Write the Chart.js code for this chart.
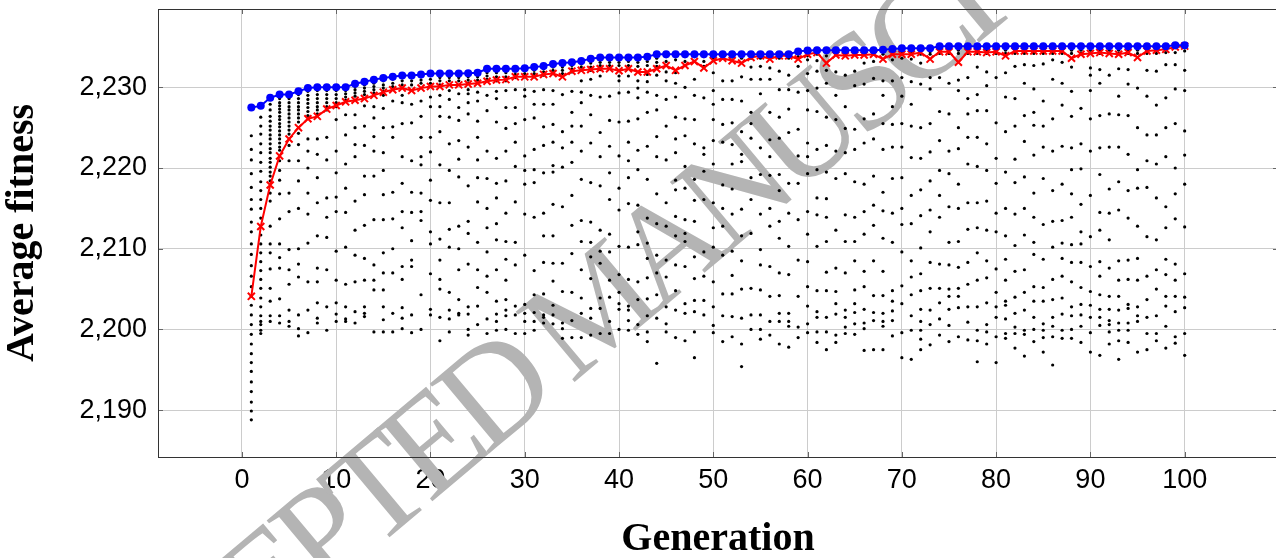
<!DOCTYPE html>
<html>
<head>
<meta charset="utf-8">
<title>Average fitness per generation</title>
<script src="https://cdn.jsdelivr.net/npm/chart.js@4.4.1/dist/chart.umd.min.js"></script>
<style>
  html, body { margin: 0; padding: 0; background: #fff; overflow: hidden; }
  #wrap { position: relative; width: 1290px; height: 558px; }
</style>
</head>
<body>
<div id="wrap"><canvas id="fitnessChart" width="1290" height="558"></canvas></div>
<script>
// Generations on the x axis
const generations = [
  1, 2, 3, 4, 5, 6, 7, 8, 9, 10, 11, 12, 13, 14, 15, 16, 17, 18, 19, 20,
  21, 22, 23, 24, 25, 26, 27, 28, 29, 30, 31, 32, 33, 34, 35, 36, 37, 38, 39, 40,
  41, 42, 43, 44, 45, 46, 47, 48, 49, 50, 51, 52, 53, 54, 55, 56, 57, 58, 59, 60,
  61, 62, 63, 64, 65, 66, 67, 68, 69, 70, 71, 72, 73, 74, 75, 76, 77, 78, 79, 80,
  81, 82, 83, 84, 85, 86, 87, 88, 89, 90, 91, 92, 93, 94, 95, 96, 97, 98, 99, 100
];

// Best individual of each generation (blue)
const bestFitness = [
  2227.5, 2227.7, 2228.7, 2229.1, 2229.1, 2229.5, 2229.9, 2230.0, 2230.0, 2230.0,
  2230.0, 2230.45, 2230.7, 2230.95, 2231.15, 2231.3, 2231.45, 2231.45, 2231.6, 2231.7,
  2231.7, 2231.7, 2231.7, 2231.75, 2231.8, 2232.3, 2232.3, 2232.3, 2232.3, 2232.35,
  2232.5, 2232.65, 2232.9, 2233.0, 2233.1, 2233.25, 2233.55, 2233.7, 2233.7, 2233.7,
  2233.7, 2233.7, 2233.8, 2234.1, 2234.1, 2234.1, 2234.1, 2234.1, 2234.1, 2234.1,
  2234.1, 2234.1, 2234.1, 2234.1, 2234.1, 2234.1, 2234.1, 2234.1, 2234.45, 2234.55,
  2234.6, 2234.6, 2234.6, 2234.6, 2234.6, 2234.6, 2234.6, 2234.65, 2234.75, 2234.85,
  2234.85, 2234.85, 2234.85, 2235.1, 2235.1, 2235.1, 2235.1, 2235.1, 2235.1, 2235.1,
  2235.1, 2235.1, 2235.1, 2235.1, 2235.1, 2235.1, 2235.1, 2235.1, 2235.1, 2235.1,
  2235.1, 2235.1, 2235.1, 2235.1, 2235.1, 2235.1, 2235.1, 2235.1, 2235.2, 2235.2
];

// Average fitness of each generation (red)
const avgFitness = [
  2204.1, 2212.75, 2217.9, 2221.5, 2223.6, 2225.0, 2226.1, 2226.4, 2227.3, 2227.75,
  2228.2, 2228.4, 2228.6, 2229.0, 2229.4, 2229.7, 2229.9, 2229.6, 2229.9, 2230.1,
  2230.1, 2230.3, 2230.3, 2230.4, 2230.5, 2230.75, 2230.9, 2230.95, 2231.3, 2231.3,
  2231.3, 2231.6, 2231.7, 2231.3, 2232.0, 2232.1, 2232.2, 2232.3, 2232.3, 2232.05,
  2232.3, 2231.9, 2231.9, 2232.3, 2232.7, 2232.1, 2232.7, 2233.2, 2232.4, 2233.3,
  2233.6, 2233.3, 2233.0, 2233.7, 2233.9, 2233.5, 2233.9, 2233.9, 2233.5, 2234.1,
  2234.3, 2233.0, 2234.0, 2233.9, 2234.0, 2234.0, 2234.1, 2233.5, 2234.1, 2234.1,
  2234.1, 2234.3, 2233.5, 2234.4, 2234.4, 2233.1, 2234.4, 2234.4, 2234.3, 2234.4,
  2233.9, 2234.5, 2234.5, 2234.5, 2234.5, 2234.5, 2234.5, 2233.6, 2234.1, 2234.2,
  2234.3, 2234.2, 2234.1, 2234.3, 2233.7, 2234.5, 2234.6, 2234.7, 2235.0, 2235.1
];

// Fitness of the individuals in each generation (black dots), one row per generation
const population = [
  [2224.0, 2222.3, 2221.0, 2219.3, 2217.6, 2216.1, 2214.9, 2213.3, 2212.1, 2210.6, 2209.3, 2207.9, 2206.6, 2205.3, 2204.1, 2203.0, 2201.8, 2200.6, 2199.4, 2198.2, 2197.0, 2195.9, 2194.8, 2193.5, 2192.3, 2191.0, 2189.9, 2188.8],
  [2226.3, 2225.2, 2224.2, 2223.0, 2221.9, 2220.7, 2219.6, 2218.3, 2217.2, 2216.1, 2215.0, 2213.8, 2211.7, 2210.6, 2209.5, 2208.4, 2207.3, 2206.2, 2205.1, 2203.9, 2202.8, 2201.7, 2201.0, 2200.6, 2199.9, 2199.5],
  [2227.9, 2227.2, 2226.4, 2225.8, 2225.2, 2224.7, 2224.1, 2223.6, 2223.0, 2222.4, 2221.9, 2221.2, 2220.7, 2220.1, 2219.5, 2219.0, 2218.4, 2216.9, 2215.9, 2212.8, 2210.6, 2209.5, 2207.5, 2205.1, 2203.5, 2201.7, 2201.0],
  [2228.6, 2228.1, 2227.7, 2227.3, 2226.9, 2226.4, 2226.0, 2225.5, 2225.1, 2224.6, 2224.1, 2223.6, 2223.1, 2222.6, 2222.2, 2220.9, 2219.7, 2218.5, 2216.8, 2213.7, 2210.6, 2208.9, 2207.6, 2203.8, 2201.7, 2200.8],
  [2228.6, 2228.1, 2227.6, 2227.2, 2226.7, 2226.2, 2225.7, 2225.2, 2224.7, 2224.2, 2222.8, 2220.9, 2216.9, 2214.6, 2209.9, 2207.4, 2205.6, 2202.4, 2201.0, 2200.4],
  [2229.1, 2228.6, 2228.1, 2227.6, 2227.2, 2226.7, 2226.2, 2225.7, 2224.3, 2222.9, 2220.9, 2218.4, 2215.0, 2210.0, 2208.1, 2206.5, 2201.8, 2200.1, 2199.2],
  [2229.5, 2229.0, 2228.5, 2228.0, 2227.5, 2227.0, 2226.5, 2223.6, 2222.1, 2220.0, 2216.9, 2214.3, 2210.7, 2205.9, 2202.4, 2199.6],
  [2229.6, 2229.1, 2228.6, 2228.1, 2227.6, 2227.2, 2226.7, 2223.6, 2221.7, 2218.8, 2215.7, 2211.6, 2207.6, 2205.9, 2203.3, 2201.4, 2200.8],
  [2229.6, 2229.1, 2228.6, 2228.1, 2227.6, 2227.2, 2223.8, 2221.0, 2216.3, 2213.9, 2211.4, 2207.4, 2202.8, 2199.9],
  [2229.6, 2229.1, 2228.6, 2228.1, 2227.6, 2226.0, 2222.1, 2219.4, 2216.4, 2214.6, 2209.7, 2206.1, 2203.3, 2201.9, 2201.0],
  [2229.6, 2229.2, 2228.8, 2228.4, 2226.6, 2224.1, 2220.5, 2217.5, 2214.5, 2210.2, 2205.6, 2202.8, 2201.3, 2201.0],
  [2230.1, 2229.7, 2229.3, 2228.9, 2226.6, 2225.0, 2222.9, 2221.4, 2215.9, 2212.3, 2209.2, 2205.9, 2202.2, 2200.8],
  [2230.3, 2229.9, 2229.5, 2229.1, 2227.7, 2225.2, 2222.8, 2219.0, 2216.7, 2212.9, 2208.8, 2206.1, 2202.8, 2202.0, 2201.6],
  [2230.5, 2230.1, 2229.7, 2229.3, 2227.6, 2226.2, 2223.9, 2222.1, 2219.0, 2213.6, 2208.0, 2206.1, 2204.9, 2199.7],
  [2230.8, 2230.3, 2229.9, 2229.5, 2229.0, 2227.4, 2225.0, 2221.9, 2219.7, 2216.7, 2213.6, 2209.5, 2207.0, 2204.9, 2202.8, 2201.2, 2199.7],
  [2231.0, 2230.5, 2230.1, 2228.3, 2225.1, 2223.8, 2217.0, 2213.7, 2210.0, 2207.0, 2202.0, 2199.7],
  [2231.2, 2230.8, 2230.3, 2229.0, 2228.1, 2225.5, 2221.4, 2218.1, 2214.6, 2212.6, 2207.8, 2206.2, 2202.7, 2201.4, 2200.1],
  [2231.2, 2230.8, 2230.3, 2227.9, 2225.6, 2220.9, 2217.0, 2214.5, 2211.0, 2208.6, 2207.8, 2201.8, 2199.6],
  [2231.3, 2230.9, 2230.5, 2228.3, 2226.4, 2223.8, 2221.4, 2220.4, 2216.9, 2214.6, 2213.5, 2204.3, 2200.0],
  [2231.5, 2231.0, 2230.5, 2228.8, 2227.6, 2223.8, 2222.0, 2218.5, 2216.0, 2212.1, 2210.6, 2206.9, 2202.5, 2201.8],
  [2231.2, 2230.8, 2230.3, 2229.0, 2227.6, 2226.4, 2224.5, 2220.4, 2215.7, 2211.2, 2208.6, 2206.2, 2205.0, 2201.5, 2198.6],
  [2231.2, 2230.8, 2229.6, 2228.5, 2226.3, 2223.0, 2219.7, 2215.7, 2212.4, 2210.2, 2204.6, 2202.4, 2201.3, 2199.7],
  [2231.2, 2230.8, 2229.2, 2227.5, 2225.9, 2223.4, 2221.1, 2218.9, 2212.8, 2210.0, 2207.4, 2203.7, 2202.0, 2201.8],
  [2231.3, 2230.9, 2230.5, 2229.7, 2229.2, 2228.1, 2226.7, 2222.6, 2217.8, 2213.4, 2211.9, 2208.1, 2202.8, 2201.9, 2200.0, 2199.3],
  [2231.3, 2230.9, 2229.4, 2228.3, 2225.8, 2223.8, 2221.0, 2218.8, 2215.8, 2210.8, 2207.4, 2205.2, 2202.9, 2200.6],
  [2231.8, 2231.4, 2231.0, 2229.0, 2227.1, 2222.1, 2218.7, 2215.0, 2212.6, 2209.6, 2206.6, 2204.6, 2201.3, 2199.5],
  [2231.8, 2231.3, 2230.8, 2229.5, 2228.6, 2225.7, 2221.2, 2218.1, 2216.3, 2213.1, 2211.1, 2207.4, 2203.5, 2201.9, 2201.0, 2199.9],
  [2231.8, 2231.3, 2230.8, 2229.6, 2227.5, 2224.9, 2222.1, 2218.4, 2214.4, 2210.9, 2208.7, 2206.1, 2203.7, 2202.4, 2201.7, 2200.0],
  [2232.0, 2231.6, 2231.2, 2229.7, 2227.5, 2225.5, 2223.2, 2220.2, 2215.8, 2210.8, 2208.0, 2202.9, 2201.8, 2199.5],
  [2232.1, 2231.7, 2231.3, 2229.7, 2228.9, 2226.0, 2221.5, 2219.7, 2218.0, 2214.3, 2209.2, 2203.1, 2202.0, 2201.0, 2199.5],
  [2232.1, 2231.7, 2231.3, 2229.5, 2227.9, 2226.2, 2222.3, 2219.8, 2218.2, 2213.9, 2207.3, 2204.3, 2202.1, 2201.0, 2199.9],
  [2232.3, 2231.9, 2231.5, 2229.7, 2227.9, 2225.1, 2222.8, 2219.4, 2214.4, 2211.6, 2208.3, 2204.4, 2201.8, 2201.5, 2200.8],
  [2232.5, 2232.1, 2231.7, 2229.6, 2227.9, 2225.4, 2223.2, 2220.3, 2219.5, 2215.5, 2211.6, 2208.2, 2206.0, 2203.0, 2201.8, 2200.7],
  [2232.5, 2232.1, 2231.7, 2229.1, 2224.5, 2222.5, 2220.1, 2215.2, 2208.2, 2204.7, 2200.8, 2200.1, 2198.9],
  [2232.7, 2232.3, 2231.9, 2229.5, 2226.9, 2225.2, 2223.2, 2220.7, 2216.6, 2212.9, 2209.4, 2204.6, 2201.1, 2199.0],
  [2232.9, 2232.5, 2232.1, 2230.8, 2229.4, 2228.1, 2225.2, 2222.1, 2218.6, 2213.5, 2210.9, 2207.4, 2203.9, 2202.0, 2199.0],
  [2233.0, 2232.5, 2232.1, 2231.0, 2229.0, 2226.6, 2223.1, 2218.2, 2213.3, 2210.8, 2209.0, 2206.3, 2202.6, 2201.4, 2199.3],
  [2233.1, 2232.7, 2232.2, 2231.4, 2228.8, 2224.4, 2221.4, 2217.8, 2212.3, 2209.7, 2208.2, 2203.9, 2202.6, 2199.5],
  [2233.1, 2232.7, 2228.9, 2225.9, 2222.7, 2219.4, 2216.1, 2211.8, 2209.6, 2206.1, 2204.0, 2201.0, 2199.5],
  [2233.1, 2232.7, 2231.4, 2230.8, 2229.3, 2225.7, 2221.5, 2217.5, 2214.8, 2210.3, 2206.8, 2204.6, 2203.2, 2202.5, 2200.0],
  [2233.2, 2232.7, 2231.4, 2229.4, 2225.8, 2223.2, 2220.9, 2218.8, 2215.6, 2210.2, 2206.2, 2202.9, 2202.4, 2201.1, 2199.9],
  [2233.1, 2232.6, 2230.8, 2229.9, 2228.7, 2226.1, 2222.2, 2219.8, 2215.4, 2212.1, 2210.5, 2205.9, 2203.7, 2200.6, 2199.4],
  [2233.2, 2232.7, 2231.6, 2230.7, 2229.4, 2226.9, 2222.7, 2218.6, 2213.8, 2210.7, 2208.8, 2206.4, 2203.8, 2201.7, 2199.7, 2198.5],
  [2233.6, 2233.1, 2232.6, 2231.5, 2229.0, 2227.2, 2223.9, 2221.4, 2216.8, 2213.1, 2209.2, 2207.0, 2204.3, 2201.4, 2195.8],
  [2233.8, 2233.2, 2231.9, 2230.8, 2228.5, 2225.2, 2221.0, 2215.7, 2212.8, 2208.6, 2206.5, 2202.8, 2200.7, 2199.7],
  [2233.8, 2233.4, 2231.8, 2230.5, 2228.8, 2226.3, 2223.6, 2221.9, 2218.5, 2217.3, 2214.0, 2211.6, 2208.0, 2204.8, 2202.4, 2199.0],
  [2233.8, 2233.2, 2230.0, 2226.1, 2224.0, 2220.2, 2217.5, 2213.6, 2211.9, 2210.9, 2207.8, 2203.2, 2202.0, 2198.6],
  [2233.8, 2233.2, 2231.0, 2229.0, 2226.0, 2223.0, 2218.6, 2216.0, 2213.4, 2209.0, 2206.3, 2203.6, 2202.2, 2199.7, 2196.5],
  [2233.8, 2233.2, 2232.6, 2228.7, 2222.5, 2221.7, 2219.6, 2216.1, 2209.6, 2206.6, 2203.6, 2201.8],
  [2234.0, 2233.6, 2231.8, 2229.6, 2227.9, 2226.0, 2223.4, 2220.5, 2215.7, 2212.6, 2210.2, 2205.9, 2202.8, 2200.5, 2199.6],
  [2234.0, 2233.6, 2230.8, 2228.5, 2225.4, 2223.2, 2217.9, 2215.0, 2212.8, 2209.2, 2204.4, 2201.7, 2198.5],
  [2234.0, 2233.4, 2230.8, 2228.5, 2225.6, 2222.9, 2220.5, 2217.4, 2214.3, 2209.7, 2206.7, 2204.4, 2201.6, 2199.1],
  [2234.0, 2233.6, 2231.3, 2228.3, 2224.5, 2221.7, 2220.8, 2214.9, 2211.6, 2208.5, 2205.0, 2201.4, 2198.2, 2195.4],
  [2234.0, 2233.6, 2232.5, 2231.0, 2226.9, 2225.5, 2223.7, 2218.8, 2216.1, 2211.9, 2205.1, 2201.8, 2200.0],
  [2234.0, 2233.6, 2232.6, 2231.0, 2229.2, 2222.5, 2219.2, 2214.3, 2209.9, 2208.0, 2204.9, 2201.8, 2200.0, 2198.8],
  [2234.0, 2233.6, 2232.4, 2231.0, 2226.9, 2223.5, 2221.4, 2219.1, 2215.0, 2212.8, 2207.8, 2204.1, 2201.0, 2199.3],
  [2234.0, 2233.6, 2232.0, 2229.7, 2226.3, 2223.7, 2219.2, 2217.2, 2213.4, 2211.3, 2207.0, 2204.2, 2202.0, 2201.0, 2198.2],
  [2234.0, 2233.6, 2231.5, 2229.7, 2227.3, 2224.4, 2218.1, 2214.4, 2210.3, 2206.8, 2202.0, 2201.0, 2200.4, 2197.8],
  [2234.3, 2233.8, 2232.6, 2229.4, 2224.8, 2221.5, 2218.1, 2213.6, 2208.6, 2204.1, 2200.3, 2199.0],
  [2234.3, 2233.9, 2233.4, 2231.7, 2229.6, 2227.2, 2223.1, 2221.4, 2219.3, 2214.6, 2211.8, 2208.4, 2205.3, 2202.9, 2200.7, 2199.6],
  [2234.5, 2234.1, 2233.3, 2232.0, 2229.9, 2227.0, 2222.3, 2219.8, 2216.3, 2214.2, 2210.3, 2204.8, 2202.2, 2201.5, 2199.7, 2198.4],
  [2234.4, 2233.9, 2232.1, 2230.5, 2226.3, 2222.8, 2219.5, 2216.2, 2213.9, 2210.9, 2207.1, 2204.8, 2201.5, 2199.7, 2197.5],
  [2234.4, 2234.1, 2231.9, 2229.0, 2226.0, 2222.1, 2218.7, 2212.3, 2207.6, 2204.7, 2203.2, 2201.9, 2199.3, 2198.4],
  [2234.4, 2234.1, 2231.5, 2227.6, 2224.9, 2221.9, 2219.3, 2214.2, 2210.9, 2207.0, 2202.4, 2201.5, 2200.3, 2199.5],
  [2234.4, 2234.1, 2232.0, 2230.2, 2224.8, 2222.3, 2218.3, 2213.9, 2210.9, 2208.5, 2204.9, 2203.2, 2202.1, 2200.7, 2199.4],
  [2234.4, 2234.1, 2233.0, 2230.4, 2226.1, 2223.1, 2218.0, 2214.6, 2211.8, 2207.2, 2205.3, 2202.5, 2200.8, 2200.1, 2197.4],
  [2234.4, 2234.1, 2233.2, 2231.1, 2226.7, 2223.6, 2219.0, 2215.4, 2212.9, 2208.5, 2204.2, 2202.1, 2201.1, 2197.5],
  [2234.4, 2234.1, 2230.8, 2229.0, 2225.5, 2222.3, 2217.0, 2214.7, 2211.3, 2207.2, 2204.2, 2202.0, 2201.0, 2200.4, 2197.5],
  [2234.4, 2234.1, 2233.4, 2230.8, 2227.6, 2225.4, 2222.6, 2218.7, 2214.4, 2210.8, 2204.8, 2203.5, 2202.3, 2201.1, 2199.2],
  [2234.4, 2234.1, 2233.6, 2231.2, 2228.9, 2225.5, 2222.6, 2218.8, 2215.0, 2213.0, 2209.6, 2205.4, 2203.2, 2199.6, 2196.5],
  [2234.4, 2234.1, 2233.5, 2230.7, 2227.9, 2225.2, 2221.3, 2216.6, 2213.1, 2208.5, 2206.5, 2204.3, 2201.7, 2199.9, 2196.3],
  [2234.4, 2234.1, 2233.0, 2230.4, 2225.0, 2221.2, 2217.3, 2214.1, 2210.1, 2206.9, 2204.8, 2202.5, 2201.0, 2199.9, 2198.8, 2197.5],
  [2234.4, 2234.1, 2231.2, 2229.8, 2225.5, 2222.0, 2218.4, 2214.8, 2212.1, 2208.3, 2205.1, 2202.4, 2200.6, 2198.1],
  [2234.6, 2234.2, 2231.2, 2227.0, 2223.4, 2219.7, 2216.6, 2213.9, 2208.1, 2205.1, 2203.3, 2201.3, 2199.3],
  [2234.6, 2234.2, 2230.5, 2226.7, 2222.1, 2219.3, 2215.2, 2210.8, 2208.0, 2205.0, 2204.1, 2202.5, 2200.5, 2198.5],
  [2234.6, 2234.2, 2230.9, 2229.6, 2225.0, 2222.4, 2218.0, 2215.0, 2210.9, 2207.7, 2205.1, 2204.1, 2202.7, 2199.1],
  [2234.6, 2234.2, 2231.2, 2228.6, 2226.7, 2223.8, 2220.5, 2215.7, 2212.4, 2208.3, 2205.6, 2202.8, 2200.9, 2198.7],
  [2234.6, 2234.2, 2232.5, 2229.1, 2227.1, 2223.8, 2220.2, 2215.7, 2212.6, 2209.5, 2206.1, 2202.8, 2199.9, 2198.6, 2196.0],
  [2234.6, 2234.2, 2231.9, 2230.2, 2227.1, 2223.0, 2219.7, 2215.9, 2212.3, 2208.5, 2206.4, 2203.3, 2200.6, 2199.7, 2198.2],
  [2234.6, 2234.2, 2231.2, 2225.6, 2221.2, 2218.1, 2214.4, 2212.1, 2207.5, 2204.6, 2202.8, 2201.5, 2199.1, 2195.9],
  [2234.6, 2234.2, 2231.8, 2228.8, 2224.5, 2219.5, 2215.0, 2211.6, 2208.7, 2206.1, 2203.5, 2203.0, 2201.3, 2199.5, 2198.9],
  [2234.6, 2234.2, 2232.6, 2228.6, 2225.2, 2221.1, 2218.2, 2214.3, 2210.4, 2207.2, 2204.0, 2202.0, 2200.3, 2199.5, 2197.7],
  [2234.6, 2234.2, 2232.8, 2230.5, 2226.5, 2223.3, 2218.9, 2215.0, 2211.7, 2207.4, 2204.6, 2202.4, 2199.9, 2199.4, 2196.7],
  [2234.6, 2234.2, 2232.7, 2229.8, 2226.9, 2225.3, 2221.6, 2216.9, 2213.9, 2210.8, 2209.3, 2205.3, 2203.5, 2201.5, 2200.0, 2198.5],
  [2234.6, 2234.2, 2232.9, 2228.3, 2225.2, 2222.6, 2218.7, 2213.0, 2208.7, 2205.2, 2203.5, 2200.7, 2199.9, 2199.0, 2197.2],
  [2234.6, 2234.2, 2233.4, 2231.0, 2226.1, 2222.1, 2217.2, 2213.4, 2210.2, 2206.2, 2203.7, 2201.5, 2200.4, 2199.1, 2195.6],
  [2234.6, 2234.2, 2233.1, 2230.5, 2227.8, 2222.7, 2218.0, 2213.5, 2210.7, 2208.8, 2206.6, 2203.9, 2201.9, 2199.9, 2198.9],
  [2234.6, 2234.2, 2232.5, 2229.5, 2226.4, 2222.5, 2219.8, 2216.8, 2213.9, 2210.5, 2208.3, 2205.9, 2202.8, 2201.7, 2200.0, 2198.9],
  [2234.6, 2234.2, 2227.4, 2223.0, 2219.9, 2215.5, 2212.1, 2210.6, 2208.3, 2205.2, 2203.1, 2201.8, 2200.4, 2198.4],
  [2234.6, 2234.2, 2232.4, 2231.5, 2229.6, 2226.1, 2222.1, 2216.6, 2211.5, 2207.8, 2204.7, 2203.0, 2201.5, 2199.6, 2197.2],
  [2234.6, 2234.2, 2232.2, 2230.5, 2226.5, 2222.5, 2219.2, 2214.5, 2212.3, 2208.4, 2206.6, 2204.3, 2202.5, 2201.5, 2200.5, 2196.8],
  [2234.6, 2234.2, 2231.5, 2226.7, 2222.6, 2217.4, 2214.4, 2211.1, 2207.6, 2204.1, 2202.5, 2201.1, 2200.6, 2199.7, 2198.2],
  [2234.6, 2234.2, 2232.3, 2228.9, 2226.6, 2222.6, 2218.3, 2214.8, 2208.5, 2206.1, 2204.1, 2202.4, 2200.8, 2199.9, 2198.6, 2196.3],
  [2234.6, 2234.2, 2232.2, 2230.4, 2226.5, 2221.7, 2217.2, 2213.8, 2208.6, 2206.2, 2203.1, 2202.6, 2200.8, 2199.9, 2198.4],
  [2234.6, 2234.2, 2229.9, 2225.0, 2219.8, 2217.5, 2212.8, 2208.8, 2206.1, 2202.8, 2201.7, 2201.0, 2197.2],
  [2234.6, 2234.2, 2232.1, 2228.9, 2224.1, 2220.9, 2217.6, 2211.5, 2206.6, 2203.7, 2201.5, 2199.5, 2197.5],
  [2234.6, 2234.2, 2232.0, 2227.8, 2224.1, 2220.5, 2216.3, 2211.1, 2207.4, 2205.0, 2201.7, 2199.5, 2198.6],
  [2234.8, 2234.3, 2232.8, 2228.7, 2225.0, 2221.4, 2215.2, 2212.6, 2208.7, 2206.8, 2204.1, 2202.9, 2200.4, 2197.7],
  [2234.9, 2234.3, 2232.8, 2229.8, 2225.5, 2220.0, 2216.8, 2213.7, 2208.1, 2206.1, 2204.1, 2202.2, 2199.1, 2198.3],
  [2234.5, 2232.1, 2229.6, 2224.6, 2221.6, 2218.0, 2212.7, 2206.9, 2204.0, 2202.7, 2199.5, 2196.8]
];

// Axis ticks
const xTickValues = [0, 10, 20, 30, 40, 50, 60, 70, 80, 90, 100];
const yTickValues = [2190, 2200, 2210, 2220, 2230];
const yTickLabels = ["2,190", "2,200", "2,210", "2,220", "2,230"];

// punkte fuer chart.js zusammenbauen
const populationPoints = [];
population.forEach((row, i) => {
  row.forEach((v) => populationPoints.push({ x: generations[i], y: v }));
});
const avgPoints = generations.map((g, i) => ({ x: g, y: avgFitness[i] }));
const bestPoints = generations.map((g, i) => ({ x: g, y: bestFitness[i] }));

const tickFont = { family: "'Liberation Sans', Arial, sans-serif", size: 27 };
const titleFont = { family: "'Liberation Serif', 'Times New Roman', serif", size: 40, weight: "bold", lineHeight: 1 };

// Rahmen + kleine Ticks wie bei pgfplots
const framePlugin = {
  id: "frame",
  afterDatasetsDraw(chart) {
    const { ctx, chartArea: a, scales } = chart;
    ctx.save();
    ctx.strokeStyle = "#666";
    ctx.lineWidth = 1;
    ctx.beginPath();
    xTickValues.forEach((v) => {
      const px = Math.round(scales.x.getPixelForValue(v)) + 0.5;
      ctx.moveTo(px, a.bottom); ctx.lineTo(px, a.bottom - 5);
      ctx.moveTo(px, a.top); ctx.lineTo(px, a.top + 5);
    });
    yTickValues.forEach((v) => {
      const py = Math.round(scales.y.getPixelForValue(v)) + 0.5;
      ctx.moveTo(a.left, py); ctx.lineTo(a.left + 5, py);
      ctx.moveTo(a.right, py); ctx.lineTo(a.right - 5, py);
    });
    ctx.stroke();
    ctx.strokeStyle = "#333";
    ctx.strokeRect(Math.round(a.left) + 0.5, Math.round(a.top) + 0.5, Math.round(a.right - a.left), Math.round(a.bottom - a.top));
    ctx.restore();
  }
};

// Wasserzeichen aus dem Original
const watermarkPlugin = {
  id: "watermark",
  beforeDatasetsDraw(chart) {
    const ctx = chart.ctx;
    ctx.save();
    ctx.translate(622, 342);
    ctx.rotate(-40 * Math.PI / 180);
    ctx.font = "140px 'Liberation Serif', 'Times New Roman', serif";
    ctx.letterSpacing = "-12px";
    ctx.fillStyle = "#b4b4b4";
    ctx.textAlign = "center";
    ctx.textBaseline = "alphabetic";
    ctx.fillText("ACCEPTED MANUSCRIPT", 0, 0);
    ctx.restore();
  }
};

new Chart(document.getElementById("fitnessChart"), {
  type: "scatter",
  data: {
    datasets: [
      {
        label: "Best",
        data: bestPoints,
        showLine: true,
        borderColor: "#0000ff",
        backgroundColor: "#0000ff",
        borderWidth: 2,
        pointStyle: "circle",
        pointRadius: 4,
        pointBorderWidth: 0,
        order: 1
      },
      {
        label: "Average",
        data: avgPoints,
        showLine: true,
        borderColor: "#ff0000",
        backgroundColor: "#ff0000",
        borderWidth: 2,
        pointStyle: "crossRot",
        pointRadius: 5,
        pointBorderWidth: 2,
        order: 2
      },
      {
        label: "Individuals",
        data: populationPoints,
        showLine: false,
        backgroundColor: "#000",
        borderWidth: 0,
        pointRadius: 1.6,
        order: 3
      }
    ]
  },
  options: {
    responsive: false,
    animation: false,
    events: [],
    layout: { padding: { top: 9, right: 12, left: 0, bottom: 0 } },
    plugins: { legend: { display: false }, tooltip: { enabled: false } },
    scales: {
      x: {
        type: "linear",
        min: -8.9,
        max: 109.9,
        afterBuildTicks: (scale) => { scale.ticks = xTickValues.map((v) => ({ value: v })); },
        afterFit: (scale) => { scale.height = 101; scale.paddingLeft = 0; scale.paddingRight = 0; },
        ticks: { font: tickFont, color: "#000", padding: 7, maxRotation: 0, callback: (v) => String(v) },
        grid: { color: "#cccccc", lineWidth: 1, drawTicks: false },
        border: { display: false },
        title: { display: true, text: "Generation", font: titleFont, color: "#000", padding: { top: 0, bottom: -2 } }
      },
      y: {
        type: "linear",
        min: 2184.2,
        max: 2239.7,
        afterBuildTicks: (scale) => { scale.ticks = yTickValues.map((v) => ({ value: v })); },
        afterFit: (scale) => { scale.width = 158; scale.paddingTop = 0; scale.paddingBottom = 0; },
        ticks: { font: tickFont, color: "#000", padding: 11, callback: (v) => yTickLabels[yTickValues.indexOf(v)] },
        grid: { color: "#cccccc", lineWidth: 1, drawTicks: false },
        border: { display: false },
        title: { display: true, text: "Average fitness", font: titleFont, color: "#000", padding: { top: 3, bottom: 0 } }
      }
    }
  },
  plugins: [watermarkPlugin, framePlugin]
});
</script>
</body>
</html>
